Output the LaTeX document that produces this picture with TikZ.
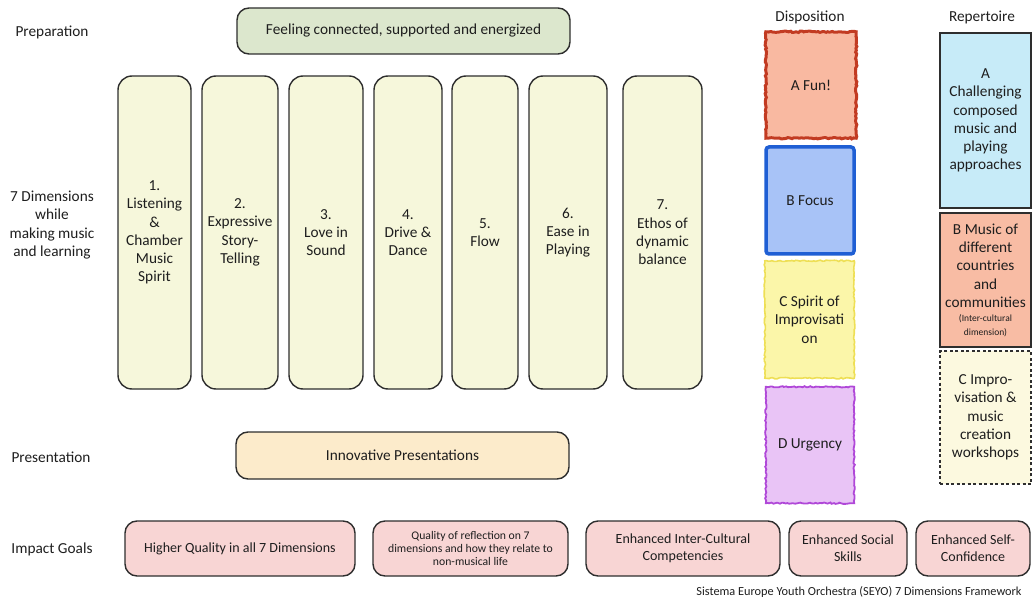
\documentclass[tikz,border=0pt]{standalone}
\usepackage{fontspec}
\setmainfont{Carlito}
\usetikzlibrary{decorations.pathmorphing}
\definecolor{txt}{HTML}{1E1E1E}
\definecolor{bord}{HTML}{2E2E2E}
\definecolor{prepfill}{HTML}{DCE7CD}
\definecolor{dimfill}{HTML}{F6F7DB}
\definecolor{presfill}{HTML}{FCEBCB}
\definecolor{impfill}{HTML}{F8D5D4}
\definecolor{funfill}{HTML}{F9B9A1}
\definecolor{fundraw}{HTML}{C23B22}
\definecolor{focfill}{HTML}{A8C3F7}
\definecolor{focdraw}{HTML}{1F5FD4}
\definecolor{spifill}{HTML}{FBF6A9}
\definecolor{spidraw}{HTML}{EEDF55}
\definecolor{urgfill}{HTML}{E9C4F6}
\definecolor{urgdraw}{HTML}{B048D8}
\definecolor{repafill}{HTML}{C7EBF8}
\definecolor{repbfill}{HTML}{F8BCA4}
\definecolor{repcfill}{HTML}{FCF9DF}
\begin{document}
\begin{tikzpicture}[x=1pt,y=-1pt,
  base/.style={font=\fontsize{15.3}{18.3}\selectfont, text=txt, align=center, inner sep=0pt},
  lbl/.style={base},
  rbox/.style={base, draw=bord, line width=1.4pt, rounded corners=12pt},
  dimbox/.style={rbox, fill=dimfill, rounded corners=14pt, minimum height=313pt},
  impbox/.style={rbox, fill=impfill, minimum height=55pt, font=\fontsize{14}{17}\selectfont},
  fuzzy/.style={decorate, decoration={random steps, segment length=2pt, amplitude=0.7pt}},
  repbox/.style={base, draw=bord, line width=1.2pt, minimum width=91pt}
]
\useasboundingbox (0,0) rectangle (1032,601);

% row labels
\node[lbl] (lprep) at (52,32) {Preparation};
\node[lbl] (ldim) at (52,225) {7 Dimensions\\while\\making music\\and learning};
\node[lbl] (lpres) at (51,457) {Presentation};
\node[lbl] (limp) at (52,549) {Impact Goals};
\node[lbl] (ldisp) at (810,17) {Disposition};
\node[lbl] (lrep) at (982,17) {Repertoire};

% preparation and presentation
\node[rbox, fill=prepfill, minimum width=333pt, minimum height=46pt] (prep) at (403.5,31) {Feeling connected, supported and energized};
\node[rbox, fill=presfill, minimum width=333pt, minimum height=47pt] (pres) at (402.5,455.5) {Innovative Presentations};

% seven dimensions
\node[dimbox, minimum width=73pt] (d1) at (154.5,232.5) {1.\\Listening\\\&\\Chamber\\Music\\Spirit};
\node[dimbox, minimum width=76pt] (d2) at (240,232.5) {2.\\Expressive\\Story-\\Telling};
\node[dimbox, minimum width=74pt] (d3) at (326,232.5) {3.\\Love in\\Sound};
\node[dimbox, minimum width=68pt] (d4) at (408,232.5) {4.\\Drive \&\\Dance};
\node[dimbox, minimum width=66pt] (d5) at (485,232.5) {5.\\Flow};
\node[dimbox, minimum width=78pt] (d6) at (568,232.5) {6.\\Ease in\\Playing};
\node[dimbox, minimum width=79pt] (d7) at (662.5,232.5) {7.\\Ethos of\\dynamic\\balance};

% disposition
\node[base, minimum width=90pt, minimum height=106pt] (fun) at (811,85) {};
\fill[funfill] (fun.north west) rectangle (fun.south east);
\draw[fundraw, line width=3pt, fuzzy] (fun.north west) rectangle (fun.south east);
\node[base] (funtext) at (fun.center) {A Fun!};

\node[base, fill=focfill, draw=focdraw, line width=3.5pt, rounded corners=3pt, minimum width=88pt, minimum height=107pt] (focus) at (810,200.5) {B Focus};

\node[base, minimum width=89pt, minimum height=117pt] (spirit) at (809.5,319.5) {};
\fill[spifill] (spirit.north west) rectangle (spirit.south east);
\draw[spidraw, line width=1.6pt, fuzzy] (spirit.north west) rectangle (spirit.south east);
\node[base] (spirittext) at (spirit.center) {C Spirit of\\Improvisati\\on};

\node[base, minimum width=88pt, minimum height=116pt] (urg) at (810,445) {};
\fill[urgfill] (urg.north west) rectangle (urg.south east);
\draw[urgdraw, line width=1.8pt, fuzzy] (urg.north west) rectangle (urg.south east);
\node[base] (urgtext) at (urg.center) {D Urgency};

% repertoire
\node[repbox, fill=repafill, minimum height=175pt] (repa) at (985.5,120.5) {A\\Challenging\\composed\\music and\\playing\\approaches};
\node[repbox, fill=repbfill, minimum height=134pt] (repb) at (985.5,280) {B Music of\\different\\countries\\and\\communities\\[-4pt]{\fontsize{9.5}{11}\selectfont (Inter-cultural}\\[-5pt]{\fontsize{9.5}{11}\selectfont dimension)}};
\node[repbox, fill=repcfill, dash pattern=on 3pt off 2.5pt, minimum height=133pt] (repc) at (985.5,417.5) {C Impro-\\visation \&\\music\\creation\\workshops};

% impact goals
\node[impbox, minimum width=230pt] (i1) at (240,548.5) {Higher Quality in all 7 Dimensions};
\node[impbox, minimum width=195pt, font=\fontsize{11.7}{12.6}\selectfont] (i2) at (470.5,548.5) {Quality of reflection on 7\\dimensions and how they relate to\\non-musical life};
\node[impbox, minimum width=194pt] (i3) at (683,548.5) {Enhanced Inter-Cultural\\Competencies};
\node[impbox, minimum width=118pt] (i4) at (848,548.5) {Enhanced Social\\Skills};
\node[impbox, minimum width=114pt] (i5) at (973,548.5) {Enhanced Self-\\Confidence};

% footer
\node[base, font=\fontsize{12.3}{14}\selectfont] (foot) at (859,592) {Sistema Europe Youth Orchestra (SEYO) 7 Dimensions Framework};
\end{tikzpicture}
\end{document}
